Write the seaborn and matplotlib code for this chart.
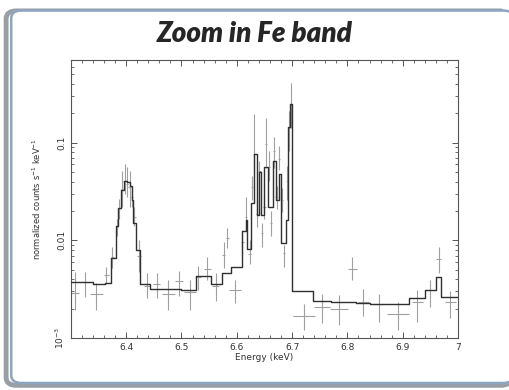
import numpy as np
import seaborn as sns
import matplotlib
matplotlib.use("Agg")
import matplotlib.pyplot as plt
from matplotlib.patches import FancyBboxPatch
from matplotlib.ticker import MultipleLocator, FixedLocator, LogLocator, NullFormatter

# model (step histogram): bin edges (keV) and level in each bin
model_edges = [6.300, 6.340, 6.362, 6.372, 6.382, 6.386, 6.391, 6.396, 6.401, 6.406,
               6.410, 6.413, 6.418, 6.425, 6.443, 6.500, 6.526, 6.553, 6.574, 6.590,
               6.610, 6.616, 6.619, 6.625, 6.631, 6.636, 6.640, 6.644, 6.650, 6.657,
               6.665, 6.671, 6.676, 6.680, 6.689, 6.692, 6.696, 6.700, 6.738, 6.771,
               6.815, 6.840, 6.911, 6.940, 6.960, 6.969, 7.000]
model_vals = [0.00375, 0.00362, 0.00370, 0.00655, 0.0142, 0.0212, 0.033, 0.041, 0.040,
              0.036, 0.026, 0.015, 0.0079, 0.00356, 0.00316, 0.00309, 0.0043, 0.00356,
              0.0046, 0.00534, 0.01245, 0.016, 0.0081, 0.0239, 0.0773, 0.018, 0.050,
              0.018, 0.056, 0.0219, 0.0655, 0.026, 0.048, 0.0093, 0.016, 0.143, 0.25,
              0.00304, 0.0024, 0.00235, 0.0023, 0.00222, 0.00259, 0.00314, 0.00422,
              0.00264]

# data points: energy, energy half width, value, lower and upper bound
data_e = [6.307, 6.326, 6.346, 6.364, 6.375, 6.383, 6.3875, 6.3925, 6.397, 6.401,
          6.406, 6.411, 6.415, 6.423, 6.4375, 6.455, 6.476, 6.495, 6.516, 6.530,
          6.547, 6.562, 6.576, 6.583, 6.597, 6.610, 6.616, 6.623, 6.627, 6.632,
          6.637, 6.641, 6.6455, 6.650, 6.6535, 6.658, 6.662, 6.668, 6.672, 6.677,
          6.6815, 6.686, 6.6915, 6.694, 6.698, 6.7216, 6.754, 6.785, 6.809, 6.829,
          6.857, 6.891, 6.926, 6.950, 6.965, 6.986]
data_de = [0.008, 0.006, 0.0114, 0.005, 0.003, 0.002, 0.002, 0.002, 0.002, 0.002,
           0.002, 0.002, 0.002, 0.004, 0.005, 0.006, 0.012, 0.007, 0.011, 0.006,
           0.006, 0.006, 0.003, 0.003, 0.0114, 0.003, 0.002, 0.002, 0.002, 0.002,
           0.002, 0.002, 0.002, 0.002, 0.002, 0.002, 0.002, 0.002, 0.002, 0.002,
           0.002, 0.002, 0.002, 0.002, 0.002, 0.0195, 0.015, 0.0165, 0.008, 0.010,
           0.012, 0.020, 0.010, 0.008, 0.005, 0.010]
data_v = [0.0029, 0.00375, 0.00286, 0.00438, 0.0067, 0.0137, 0.021, 0.0335, 0.041, 0.038,
          0.035, 0.0276, 0.0173, 0.0070, 0.0034, 0.0036, 0.0028, 0.0038, 0.00295, 0.0042,
          0.0051, 0.0034, 0.0071, 0.0105, 0.0031, 0.0096, 0.0173, 0.0073, 0.035, 0.077,
          0.0188, 0.0518, 0.0118, 0.022, 0.097, 0.056, 0.015, 0.083, 0.0276, 0.068,
          0.0256, 0.0074, 0.041, 0.142, 0.25, 0.0017, 0.0021, 0.0020, 0.0051, 0.00235,
          0.00226, 0.00176, 0.00235, 0.0031, 0.0065, 0.00235]
data_lo = [0.00193, 0.00264, 0.00193, 0.0036, 0.0052, 0.011, 0.0167, 0.0219, 0.0299, 0.0276,
           0.0219, 0.0222, 0.0139, 0.0048, 0.00256, 0.0026, 0.00193, 0.0027, 0.00193, 0.0031,
           0.0039, 0.0024, 0.0052, 0.0083, 0.0023, 0.0067, 0.0127, 0.0058, 0.0256, 0.0518,
           0.0136, 0.038, 0.0085, 0.0167, 0.055, 0.041, 0.011, 0.055, 0.021, 0.052,
           0.0193, 0.0053, 0.0256, 0.083, 0.142, 0.00121, 0.00142, 0.00136, 0.0039, 0.0017,
           0.00147, 0.00121, 0.00147, 0.0021, 0.0046, 0.0016]
data_hi = [0.00475, 0.00475, 0.0037, 0.0053, 0.0085, 0.0167, 0.0266, 0.0518, 0.061, 0.056,
           0.0518, 0.0356, 0.0222, 0.010, 0.0046, 0.0046, 0.0039, 0.0049, 0.0039, 0.0055,
           0.0067, 0.0046, 0.0096, 0.0133, 0.0039, 0.0127, 0.0275, 0.010, 0.046, 0.198,
           0.0256, 0.0655, 0.015, 0.029, 0.18, 0.083, 0.0202, 0.115, 0.036, 0.093,
           0.034, 0.0089, 0.058, 0.212, 0.41, 0.00226, 0.00286, 0.00275, 0.0068, 0.0032,
           0.00286, 0.00235, 0.0031, 0.0039, 0.0085, 0.003]

x_ticks = [6.4, 6.5, 6.6, 6.7, 6.8, 6.9, 7.0]
x_labels = ["6.4", "6.5", "6.6", "6.7", "6.8", "6.9", "7"]
y_ticks = [0.001, 0.01, 0.1]
y_labels = ["10$^{-3}$", "0.01", "0.1"]

sns.set_style("ticks")
plt.rcParams['font.family'] = ['DejaVu Sans']

fig = plt.figure(figsize=(5.1, 3.9), dpi=100)
fig.patch.set_facecolor("white")

# slide-like frame, drawn behind the axes
fig.patches.append(FancyBboxPatch((0.012, 0.012), 0.99, 0.96,
                                  boxstyle="round,pad=0,rounding_size=0.02",
                                  transform=fig.transFigure, facecolor="none",
                                  edgecolor="#9a9fa6", linewidth=3.5, zorder=-2))
fig.patches.append(FancyBboxPatch((0.022, 0.018), 0.985, 0.955,
                                  boxstyle="round,pad=0,rounding_size=0.02",
                                  transform=fig.transFigure, facecolor="white",
                                  edgecolor="#8ea5c0", linewidth=1.8, zorder=-1))

fig.text(0.5, 0.912, "Zoom in Fe band", ha="center", va="center",
         family=["Lato", "DejaVu Sans"], fontsize=20, fontweight="heavy", fontstyle="italic")

ax = fig.add_axes([0.139, 0.133, 0.759, 0.713])
ax.set_zorder(1)
ax.patch.set_alpha(0)

# data crosses
v = np.array(data_v)
yerr = [v - np.array(data_lo), np.array(data_hi) - v]
ax.errorbar(data_e, data_v, xerr=data_de, yerr=yerr, fmt="none",
            ecolor="#a0a0a0", elinewidth=0.8, capsize=0, zorder=2)

# model step line
step_x = model_edges
step_y = model_vals + [model_vals[-1]]
sns.lineplot(x=step_x, y=step_y, ax=ax, drawstyle="steps-post", color="#303030",
             linewidth=1.0, estimator=None, sort=False, zorder=3)

ax.set_yscale("log")
ax.set_xlim(6.3, 7.0)
ax.set_ylim(0.001, 0.7)

ax.xaxis.set_major_locator(FixedLocator(x_ticks))
ax.set_xticklabels(x_labels)
ax.xaxis.set_minor_locator(MultipleLocator(0.02))
ax.yaxis.set_major_locator(FixedLocator(y_ticks))
ax.set_yticklabels(y_labels, rotation=90, va="center")
ax.yaxis.set_minor_locator(LogLocator(base=10, subs=np.arange(2, 10)))
ax.yaxis.set_minor_formatter(NullFormatter())

ax.tick_params(which="both", direction="in", top=True, right=True, labelsize=6.5,
               colors="#555555", labelcolor="#333333")
ax.tick_params(which="major", length=4, width=0.7)
ax.tick_params(which="minor", length=2, width=0.6)
for s in ax.spines.values():
    s.set_linewidth(0.8)
    s.set_color("#555555")

ax.set_xlabel("Energy (keV)", fontsize=6.5, color="#333333", labelpad=1)
ax.set_ylabel("normalized counts s$^{-1}$ keV$^{-1}$", fontsize=6, color="#333333", labelpad=8)

fig.savefig("out.png", dpi=100, facecolor="white")
